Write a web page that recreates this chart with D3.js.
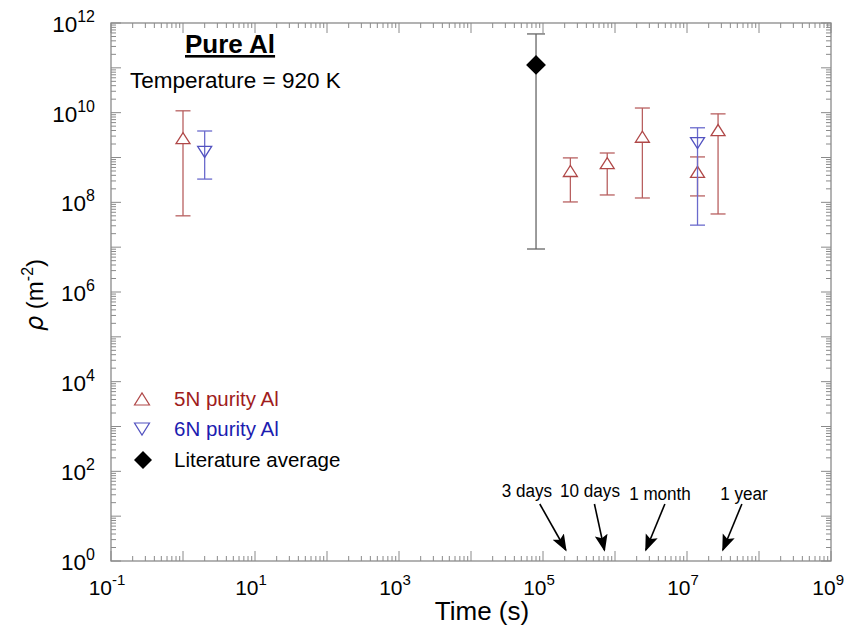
<!DOCTYPE html>
<html><head><meta charset="utf-8">
<script src="https://cdn.jsdelivr.net/npm/d3@7"></script>
<style>body{margin:0;background:#fff} text{font-family:"Liberation Sans",Arial,sans-serif}</style>
</head><body>
<svg id="c" width="845" height="631"></svg>
<script>
// ---- data ----
const xTickValues=[1e-1,1e1,1e3,1e5,1e7,1e9];
const xTickExp=["-1","1","3","5","7","9"];
const yTickValues=[1e0,1e2,1e4,1e6,1e8,1e10,1e12];
const yTickExp=["0","2","4","6","8","10","12"];

const n5Time=[1,2.4e5,7.8e5,2.4e6,1.4e7,2.7e7];
const n5Rho=[2.7e9,5.0e8,7.5e8,2.9e9,4.8e8,4.1e9];
const n5Hi=[1.1e10,9.8e8,1.26e9,1.27e10,1.03e9,9.4e9];
const n5Lo=[5.0e7,1.02e8,1.46e8,1.25e8,1.39e8,5.5e7];

const n6Time=[2,1.4e7];
const n6Rho=[1.33e9,2.1e9];
const n6Hi=[3.9e9,4.6e9];
const n6Lo=[3.3e8,3.1e7];

const litTime=[8e4];
const litRho=[1.16e11];
const litHi=[5.7e11];
const litLo=[9.1e6];

const markLabels=["3 days","10 days","1 month","1 year"];
const markTime=[259200,864000,2.6e6,3.15e7];

const legendLabels=["5N purity Al","6N purity Al","Literature average"];

// ---- layout ----
const svg=d3.select("#c");
const L=111,R=831,T=23,B=561;
const x=d3.scaleLog().domain([1e-1,1e9]).range([L,R]);
const y=d3.scaleLog().domain([1e0,1e12]).range([B,T]);
const frame="#8a8a8a";
const red="#b04848", redTxt="#a01c1c", blue="#5252c0", blueTxt="#1c1cb0";

function minors(lo,hi){const a=[];for(let e=lo;e<hi;e++){for(let m=2;m<=9;m++)a.push(m*Math.pow(10,e));}return a;}
function majors(lo,hi){const a=[];for(let e=lo;e<=hi;e++)a.push(Math.pow(10,e));return a;}
const xMin=minors(-1,9), xMaj=majors(-1,9);
const yMin=minors(0,12), yMaj=majors(0,12);

const g=svg.append("g");
function ticks(vals,len,isX){
  vals.forEach(v=>{
    if(isX){
      const px=x(v);
      g.append("line").attr("x1",px).attr("x2",px).attr("y1",B).attr("y2",B-len).attr("stroke",frame).attr("stroke-width",1);
      g.append("line").attr("x1",px).attr("x2",px).attr("y1",T).attr("y2",T+len).attr("stroke",frame).attr("stroke-width",1);
    } else {
      const py=y(v);
      g.append("line").attr("y1",py).attr("y2",py).attr("x1",L).attr("x2",L+len).attr("stroke",frame).attr("stroke-width",1);
      g.append("line").attr("y1",py).attr("y2",py).attr("x1",R).attr("x2",R-len).attr("stroke",frame).attr("stroke-width",1);
    }
  });
}
ticks(xMin,5,true);ticks(xMaj,10,true);
ticks(yMin,5,false);ticks(yMaj,10,false);
g.append("rect").attr("x",L).attr("y",T).attr("width",R-L).attr("height",B-T).attr("fill","none").attr("stroke",frame).attr("stroke-width",1.3);

// tick labels
xTickValues.forEach((v,i)=>{
  const last=i===xTickValues.length-1;
  const t=svg.append("text").attr("x",last?844:x(v)-4).attr("y",B+34).attr("text-anchor",last?"end":"middle")
    .attr("font-size",21).attr("fill","#000");
  t.append("tspan").text("10");
  t.append("tspan").text(xTickExp[i]).attr("font-size",15).attr("dy",-10);
});
yTickValues.forEach((v,i)=>{
  const t=svg.append("text").attr("x",95).attr("y",y(v)+9).attr("text-anchor","end").attr("font-size",22.5).attr("fill","#000");
  t.append("tspan").text("10");
  t.append("tspan").text(yTickExp[i]).attr("font-size",16).attr("dy",-10);
});

// axis titles
svg.append("text").attr("x",482).attr("y",620).attr("text-anchor","middle").attr("font-size",26).text("Time (s)");
const yl=svg.append("text").attr("transform","translate(43,295) rotate(-90)").attr("text-anchor","middle").attr("font-size",24);
yl.append("tspan").text("ρ").attr("font-style","italic").attr("font-family","DejaVu Sans");
yl.append("tspan").text(" (m");
yl.append("tspan").text("-2").attr("font-size",16).attr("dy",-10);
yl.append("tspan").text(")").attr("dy",10);

// annotation
svg.append("text").attr("x",185).attr("y",53).attr("font-size",26).attr("font-weight","bold").attr("text-decoration","underline").text("Pure Al");
svg.append("text").attr("x",130).attr("y",88).attr("font-size",22.5).text("Temperature = 920 K");

// markers
const upTri="M-7,5.5L7,5.5L0,-5.5Z";
const downTri="M-7,-5.5L7,-5.5L0,5.5Z";
const diamond="M0,-9L9,0L0,9L-9,0Z";
function series(times,rho,hi,lo,col,barCol,path,fill,cap){
  const s=svg.append("g");
  times.forEach((t,i)=>{
    const px=x(t);
    s.append("line").attr("x1",px).attr("x2",px).attr("y1",y(hi[i])).attr("y2",y(lo[i])).attr("stroke",barCol).attr("stroke-width",1.3);
    [hi[i],lo[i]].forEach(v=>s.append("line").attr("x1",px-cap).attr("x2",px+cap).attr("y1",y(v)).attr("y2",y(v)).attr("stroke",barCol).attr("stroke-width",1.3));
    s.append("path").attr("d",path).attr("transform",`translate(${px},${y(rho[i])})`).attr("fill",fill).attr("stroke",col).attr("stroke-width",1.3);
  });
}
series(litTime,litRho,litHi,litLo,"#000","#666",diamond,"#000",9);
series(n5Time,n5Rho,n5Hi,n5Lo,red,"#b86060",upTri,"#fff",7.5);
series(n6Time,n6Rho,n6Hi,n6Lo,blue,"#6a6acc",downTri,"none",7.5);

// legend
const lg=svg.append("g");
const legY=[399,429,460];
const legCol=[redTxt,blueTxt,"#000"];
lg.append("path").attr("d","M-7.5,6L7.5,6L0,-6Z").attr("transform",`translate(142,${legY[0]})`).attr("fill","none").attr("stroke",red).attr("stroke-width",1.2);
lg.append("path").attr("d","M-7.5,-6L7.5,-6L0,6Z").attr("transform",`translate(142,${legY[1]})`).attr("fill","none").attr("stroke",blue).attr("stroke-width",1.2);
lg.append("path").attr("d",diamond).attr("transform",`translate(143,${legY[2]})`).attr("fill","#000");
legendLabels.forEach((l,i)=>lg.append("text").attr("x",174).attr("y",legY[i]+7).attr("font-size",20.5).attr("fill",legCol[i]).text(l));

// time arrows
const tipDx=[-7,-6,1,0], tailDx=[-26,-10,19,19];
const txtX=[527,590,660,744], txtY=[497,497,500,500];
svg.append("defs").append("marker").attr("id","ah").attr("viewBox","0 0 10 10").attr("refX",9).attr("refY",5)
  .attr("markerUnits","userSpaceOnUse").attr("markerWidth",17).attr("markerHeight",17).attr("orient","auto")
  .append("path").attr("d","M0,1.2L10,5L0,8.8L2,5Z").attr("fill","#000");
markTime.forEach((t,i)=>{
  const tx=x(t)+tipDx[i], ty=y(1.76);
  svg.append("line").attr("x1",tx+tailDx[i]).attr("y1",ty-46).attr("x2",tx).attr("y2",ty)
    .attr("stroke","#000").attr("stroke-width",1.6).attr("marker-end","url(#ah)");
  svg.append("text").attr("x",txtX[i]).attr("y",txtY[i]).attr("text-anchor","middle").attr("font-size",19)
    .attr("transform",`translate(${txtX[i]},0) scale(0.9,1) translate(${-txtX[i]},0)`).text(markLabels[i]);
});
</script>
</body></html>
